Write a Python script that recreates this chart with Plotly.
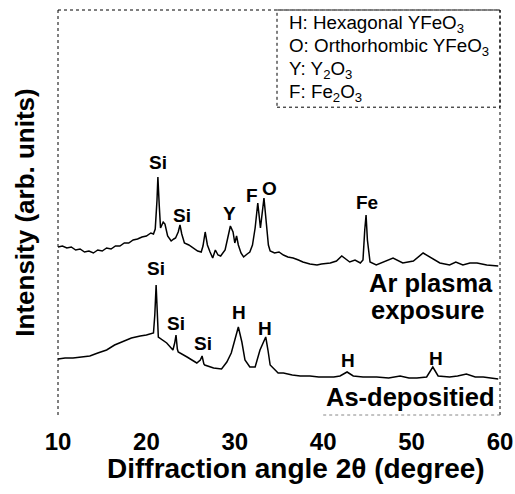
import plotly.graph_objects as go

# ---- data (intensity in arbitrary units) ----
ar_angle = [10.0, 10.5, 11.0, 11.5, 12.0, 12.5, 13.0, 13.5, 14.0, 14.5, 15.0, 15.5, 16.0, 16.5, 17.0,
            17.5, 18.0, 18.5, 19.0, 19.5, 20.0, 20.5, 20.8, 21.0, 21.2, 21.3, 21.45, 21.6, 21.9, 22.1,
            22.4, 22.8, 23.1, 23.3, 23.6, 23.8, 24.0, 24.3, 24.8, 25.3, 25.8, 26.2, 26.4, 26.65, 26.9,
            27.2, 27.5, 27.8, 28.1, 28.4, 28.9, 29.2, 29.5, 29.8, 30.0, 30.2, 30.4, 30.7, 31.0, 31.4,
            31.7, 32.0, 32.3, 32.6, 32.9, 33.3, 33.6, 33.8, 34.0, 34.5, 35.0, 35.5, 36.0, 36.6, 37.2,
            37.7, 38.5, 39.3, 39.8, 40.8, 41.5, 42.1, 43.0, 43.6, 44.2, 44.5, 44.7, 44.85, 45.0, 45.3,
            46.0, 47.0, 47.9, 49.0, 50.2, 51.3, 52.3, 53.2, 54.3, 55.0, 55.8, 56.6, 57.4, 58.5, 59.8]
ar_int = [168, 169, 167, 168, 165, 166, 163, 164, 162, 165, 164, 167, 166, 169, 169,
          172, 172, 175, 176, 178, 179, 182, 181, 186, 215, 238, 210, 187, 193, 191,
          179, 174, 176, 177, 183, 190, 181, 172, 170, 167, 164, 163, 169, 183, 170,
          163, 157, 165, 160, 159, 165, 177, 189, 183, 172, 179, 170, 162, 158, 161,
          163, 170, 187, 212, 187, 217, 190, 170, 164, 162, 163, 160, 158, 157, 155,
          153, 151, 150, 151, 152, 154, 159, 153, 155, 152, 155, 185, 200, 175, 153,
          150, 154, 157, 152, 154, 162, 157, 152, 150, 153, 150, 152, 152, 150, 149]

as_angle = [10.0, 10.8, 11.7, 12.6, 13.6, 14.5, 15.5, 16.4, 17.4, 18.3, 19.3, 20.0, 20.8, 20.95, 21.1,
            21.2, 21.35, 22.3, 23.0, 23.2, 23.35, 23.5, 23.6, 24.6, 25.7, 26.1, 26.3, 26.5, 26.6, 27.6,
            28.5, 29.1, 29.6, 30.0, 30.4, 30.8, 31.15, 31.7, 32.3, 32.85, 33.5, 33.75, 34.0, 34.9, 35.5,
            36.5, 37.4, 38.5, 39.5, 40.4, 41.2, 41.9, 42.7, 43.4, 44.5, 46.05, 47.4, 48.7, 49.7, 50.6,
            51.7, 52.4, 53.0, 54.3, 55.2, 56.2, 57.2, 58.1, 59.0, 59.8]
as_int = [56, 57, 57, 58, 59, 62, 65, 70, 74, 77, 79, 80, 82, 100, 130,
          105, 78, 72, 65, 72, 80, 66, 63, 58, 52, 55, 59, 51, 50, 47,
          46, 53, 62, 75, 88, 73, 55, 48, 48, 65, 78, 65, 50, 42, 42,
          40, 39, 39, 38, 38, 38, 39, 43, 39, 38, 38, 37, 39, 37, 37,
          38, 48, 39, 38, 39, 41, 38, 38, 37, 36]

peak_text = ["Si", "Si", "Y", "F", "O", "Fe", "Si", "Si", "Si", "H", "H", "H", "H"]
peak_x = [21.3, 24.0, 29.4, 32.0, 33.9, 44.9, 21.05, 23.3, 26.4, 30.5, 33.4, 42.8, 52.8]
peak_y = [253, 200, 202, 220, 227, 213, 147, 92, 72, 103, 87, 55, 57]

legend_lines = ["H: Hexagonal YFeO<sub>3</sub>", "O: Orthorhombic YFeO<sub>3</sub>",
                "Y: Y<sub>2</sub>O<sub>3</sub>", "F: Fe<sub>2</sub>O<sub>3</sub>"]
x_ticks = [10, 20, 30, 40, 50, 60]

FONT = "Liberation Sans, Arial, sans-serif"

fig = go.Figure()
fig.add_trace(go.Scatter(x=ar_angle, y=ar_int, mode="lines", name="Ar plasma exposure",
                         line=dict(color="black", width=1.5)))
fig.add_trace(go.Scatter(x=as_angle, y=as_int, mode="lines", name="As-depositied",
                         line=dict(color="black", width=1.5)))

for t, x, y in zip(peak_text, peak_x, peak_y):
    fig.add_annotation(x=x, y=y, text=t, showarrow=False, xanchor="center", yanchor="middle",
                       font=dict(family=FONT, size=19, color="black", weight="bold"))

fig.add_annotation(x=52.2, y=132, text="Ar plasma", showarrow=False,
                   font=dict(family=FONT, size=25.5, color="black", weight="bold"))
fig.add_annotation(x=51.8, y=105, text="exposure", showarrow=False,
                   font=dict(family=FONT, size=25.5, color="black", weight="bold"))
fig.add_annotation(x=49.9, y=18, text="As-depositied", showarrow=False,
                   font=dict(family=FONT, size=25.5, color="black", weight="bold"))

# x-axis title (offset to the right as in the original)
fig.add_annotation(xref="paper", yref="paper", x=0.538, y=(415 - 468) / 405,
                   text="Diffraction angle 2θ (degree)", showarrow=False,
                   xanchor="center", yanchor="middle",
                   font=dict(family=FONT, size=28, color="black", weight="bold"))

# legend box
fig.add_shape(type="rect", xref="paper", yref="paper", x0=0.4955, x1=1.0, y0=0.76, y1=1.0,
              line=dict(color="black", width=1, dash="dot"))
for i, s in enumerate(legend_lines):
    fig.add_annotation(xref="paper", yref="paper", x=0.518, y=(415 - (24 + 23 * i)) / 405,
                       text=s, showarrow=False, xanchor="left", yanchor="middle",
                       font=dict(family=FONT, size=18.8, color="black"))

# dotted frame (left, top, right) and faint partial bottom
for x0, y0, x1, y1 in [(0, 0, 0, 1), (0, 1, 1, 1), (1, 0, 1, 1)]:
    fig.add_shape(type="line", xref="paper", yref="paper", x0=x0, y0=y0, x1=x1, y1=y1,
                  line=dict(color="black", width=1, dash="dot"))
fig.add_shape(type="line", xref="x", yref="paper", x0=40, y0=0, x1=60, y1=0,
              line=dict(color="#888888", width=1, dash="dot"))

fig.update_layout(
    width=515, height=494,
    margin=dict(l=58, r=15, t=10, b=79, autoexpand=False),
    paper_bgcolor="white", plot_bgcolor="white",
    showlegend=False,
    xaxis=dict(range=[10, 60], tickvals=x_ticks, ticks="outside", ticklen=5,
               tickcolor="rgba(0,0,0,0)", showgrid=False, zeroline=False, showline=False,
               automargin=False,
               tickfont=dict(family=FONT, size=24, color="black", weight="bold")),
    yaxis=dict(range=[0, 405], showticklabels=False, ticks="", showgrid=False, zeroline=False,
               showline=False, automargin=False,
               title=dict(text="Intensity (arb. units)", standoff=14,
                          font=dict(family=FONT, size=26, color="black", weight="bold"))),
)

fig.write_html("out.html")
